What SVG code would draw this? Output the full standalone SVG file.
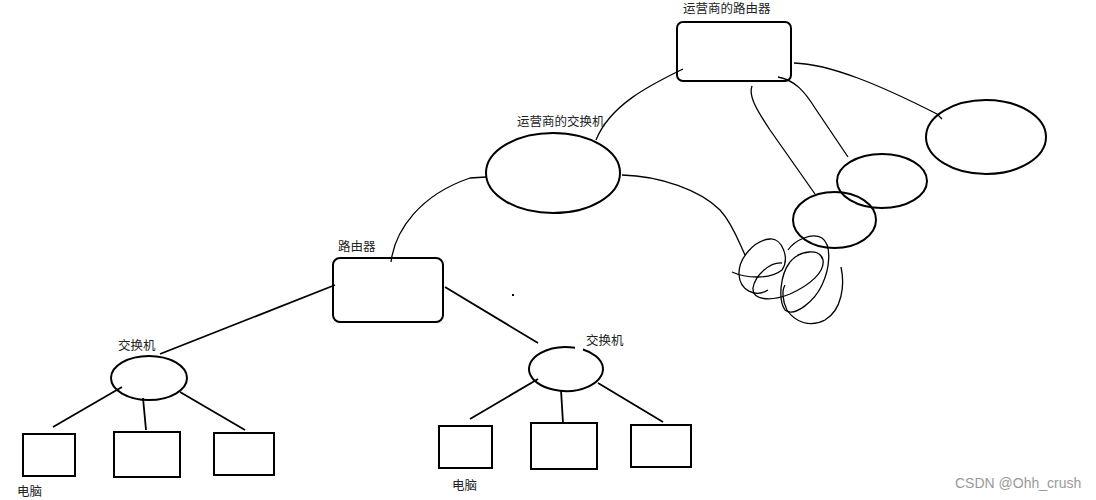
<svg xmlns="http://www.w3.org/2000/svg" width="1096" height="500" viewBox="0 0 1096 500">
<style>
.n{fill:none;stroke:#000;stroke-width:2}
.c{fill:none;stroke:#000;stroke-width:1.3}
.l{fill:none;stroke:#000;stroke-width:1.8}
.t{font-family:"Liberation Sans","Noto Sans CJK SC",sans-serif;font-size:12.5px;fill:#222}
.w{font-family:"Liberation Sans",sans-serif;font-size:14px;fill:#999}
</style>
<rect width="1096" height="500" fill="#fff"/>
<g id="connectors">
<path class="c" d="M683,69 C650,85 610,105 596,140"/>
<path class="c" d="M794,63 C830,64 880,85 937,114 L942,119"/>
<path class="c" d="M778,77 C795,80 805,92 815,108 C830,130 840,145 848,157"/>
<path class="c" d="M752,86 C748,96 758,112 770,130 L815,194"/>
<path class="c" d="M622,175 C660,176 700,190 720,210 C733,224 740,245 745,255"/>
<path class="c" d="M391,262 C395,230 420,195 470,178 L486,177"/>
<path class="l" d="M335,285 L160,354"/>
<path class="l" d="M445,287 L538,343"/>
<path class="l" d="M53,427 L122,387 M143,398 L146,430 M180,392 L245,430"/>
<path class="l" d="M470,419 L538,379 M561,390 L563,423 M598,383 L663,422"/>
</g>
<g id="scribble">
<path class="c" d="M732,272 C745,278 770,280 782,270 C790,258 782,238 770,239 C755,240 738,258 739,275 C740,290 755,298 768,290"/>
<path class="c" d="M782,263 C770,262 755,275 753,288 C752,300 770,302 790,294 C810,285 825,272 823,260 C820,248 800,250 790,262"/>
<path class="c" d="M790,262 C780,275 778,300 785,310 C795,318 815,300 822,285 C830,268 832,245 822,238 C812,232 795,240 788,250"/>
<path class="c" d="M841,267 C845,285 842,310 825,320 C810,328 795,322 787,310 C782,300 782,290 785,285"/>
</g>
<g id="isp-router">
<rect class="n" x="677" y="22" width="114" height="59" rx="6"/>
<text class="t" x="683" y="13">运营商的路由器</text>
</g>
<g id="cloud-a"><ellipse class="n" cx="986" cy="137" rx="60" ry="37"/></g>
<g id="cloud-b"><ellipse class="n" cx="882" cy="181" rx="45" ry="27"/></g>
<g id="cloud-c"><ellipse class="n" cx="834.5" cy="220" rx="41.5" ry="28"/></g>
<g id="isp-switch">
<ellipse class="n" cx="553" cy="173" rx="67" ry="40"/>
<text class="t" x="517" y="126">运营商的交换机</text>
</g>
<g id="router">
<rect class="n" x="333" y="258" width="110" height="64" rx="7"/>
<text class="t" x="338" y="251">路由器</text>
</g>
<g id="switch-left">
<ellipse class="n" cx="149" cy="378" rx="38" ry="22"/>
<text class="t" x="118" y="350">交换机</text>
</g>
<g id="switch-right">
<path class="n" d="M575,347.66 A37,22 0 1 0 583,349.46"/>
<text class="t" x="586" y="345">交换机</text>
</g>
<g id="pc-l1"><rect class="n" x="23" y="434" width="52" height="42"/><text class="t" x="17" y="496">电脑</text></g>
<g id="pc-l2"><rect class="n" x="114" y="432" width="66" height="45"/></g>
<g id="pc-l3"><rect class="n" x="214" y="433" width="60" height="42"/></g>
<g id="pc-r1"><rect class="n" x="439" y="426" width="53" height="42"/><text class="t" x="452" y="490">电脑</text></g>
<g id="pc-r2"><rect class="n" x="531" y="423" width="66" height="46"/></g>
<g id="pc-r3"><rect class="n" x="631" y="425" width="60" height="42"/></g>
<rect x="512" y="294" width="2" height="2" fill="#000"/>
<text class="w" x="955" y="488">CSDN @Ohh_crush</text>
</svg>
